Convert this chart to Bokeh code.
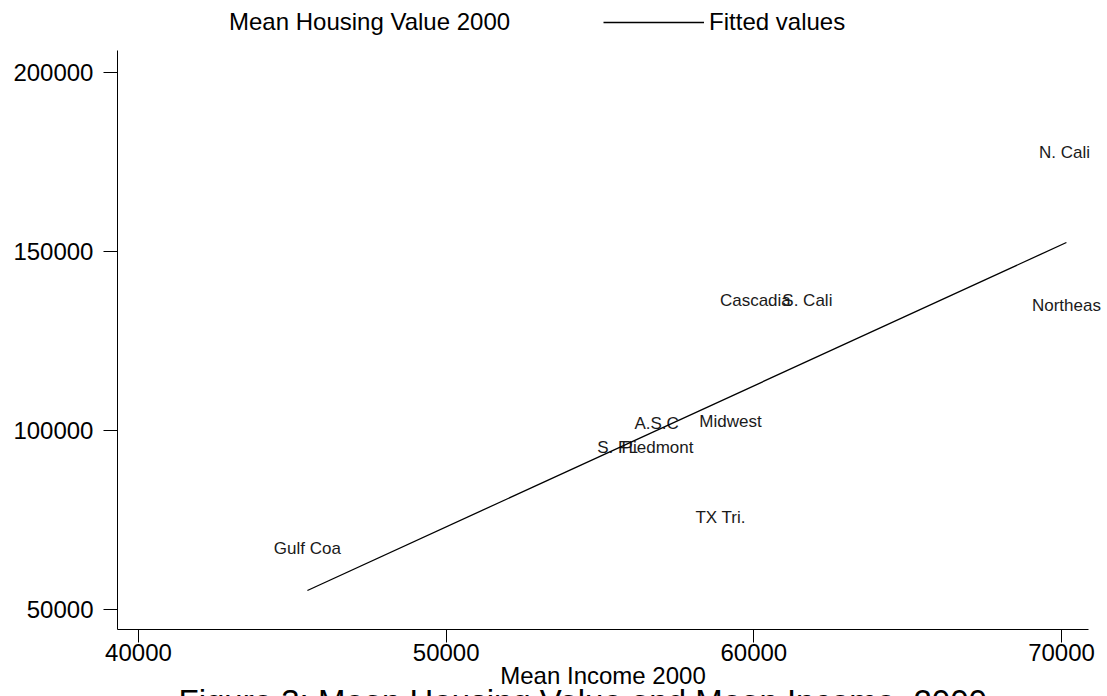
from bokeh.plotting import figure
from bokeh.models import (Range1d, FixedTicker, Legend, LegendItem, Label,
                          ColumnDataSource)
from bokeh.core.properties import value
from bokeh.embed import file_html
from bokeh.resources import INLINE

# ---- data ----
regions = ["Gulf Coa", "N. Cali", "Northeas", "Cascadia", "S. Cali",
           "A.S.C", "Midwest", "S. FL", "Piedmont", "TX Tri."]
mean_income = [45490, 70100, 70160, 60050, 61740,
               56840, 59240, 55570, 56870, 58920]
mean_housing = [67040, 177650, 134920, 136310, 136310,
                101950, 102510, 95250, 95250, 75700]

fit_income = [45490, 70160]
fit_housing = [55310, 152510]

x_ticks = [40000, 50000, 60000, 70000]
x_tick_labels = ["40000", "50000", "60000", "70000"]
y_ticks = [50000, 100000, 150000, 200000]
y_tick_labels = ["50000", "100000", "150000", "200000"]

x_title = "Mean Income 2000"
series_name = "Mean Housing Value 2000"
fit_name = "Fitted values"
fig_title = "Figure 3:  Mean Housing Value and Mean Income,  2000"

# axis extents (plot region of the original graph)
x_axis_span = (39317, 70878)
y_axis_span = (44413, 206145)

FONT = "Liberation Sans"

src = ColumnDataSource(dict(x=mean_income, y=mean_housing, name=regions))

p = figure(width=1107, height=696, output_backend="svg", toolbar_location=None,
           x_range=Range1d(35515, 71495), y_range=Range1d(25698, 220112),
           min_border=0, min_border_left=0, min_border_right=0,
           min_border_top=0, min_border_bottom=0)
p.title.visible = False
p.outline_line_color = None
p.xgrid.visible = False
p.ygrid.visible = False
p.background_fill_color = "white"
p.border_fill_color = "white"

# axes
for ax, ticks, labels in ((p.xaxis[0], x_ticks, x_tick_labels),
                          (p.yaxis[0], y_ticks, y_tick_labels)):
    ax.ticker = FixedTicker(ticks=ticks)
    ax.major_label_overrides = {t: l for t, l in zip(ticks, labels)}
    ax.major_tick_in = 0
    ax.minor_tick_in = 0
    ax.minor_tick_out = 0
    ax.axis_line_color = "black"
    ax.major_tick_line_color = "black"
    ax.major_label_text_font = FONT
    ax.major_label_text_font_size = "24px"
    ax.major_label_text_color = "black"
p.xaxis.fixed_location = y_axis_span[0]
p.xaxis.bounds = x_axis_span
p.xaxis.major_tick_out = 13
p.xaxis.major_label_standoff = 1
p.xaxis.axis_label = x_title
p.xaxis.axis_label_standoff = -2
p.xaxis.axis_label_text_font = FONT
p.xaxis.axis_label_text_font_size = "24px"
p.xaxis.axis_label_text_font_style = "normal"
p.xaxis.axis_label_text_color = "black"

p.yaxis.fixed_location = x_axis_span[0]
p.yaxis.bounds = y_axis_span
p.yaxis.major_tick_out = 14
p.yaxis.major_label_standoff = 10

# invisible markers (series shown only by its labels)
pts = p.scatter("x", "y", source=src, size=0, fill_alpha=0, line_alpha=0)
p.text("x", "y", text="name", source=src, text_align="center",
       text_baseline="middle", text_font=value(FONT),
       text_font_size="17px", text_color="#1a1a1a")

fit = p.line(fit_income, fit_housing, line_color="black", line_width=1.3)

legend = Legend(items=[LegendItem(label=series_name, renderers=[pts]),
                       LegendItem(label=fit_name, renderers=[fit])],
                orientation="horizontal", location=(123, 660),
                border_line_color=None, background_fill_alpha=0,
                padding=0, margin=0, spacing=93, glyph_width=101,
                glyph_height=20, label_height=20, label_standoff=5,
                label_text_font=FONT, label_text_font_size="24px",
                label_text_color="black")
p.add_layout(legend, "center")

# figure caption, cut by the lower edge as in the original picture
p.add_layout(Label(x=178, y=-5, x_units="screen", y_units="screen",
                   text=fig_title, text_align="left",
                   text_baseline="middle", text_font=FONT,
                   text_font_size="33px", text_color="black",
                   level="overlay"))

open("out.html", "w").write(file_html(p, INLINE))
